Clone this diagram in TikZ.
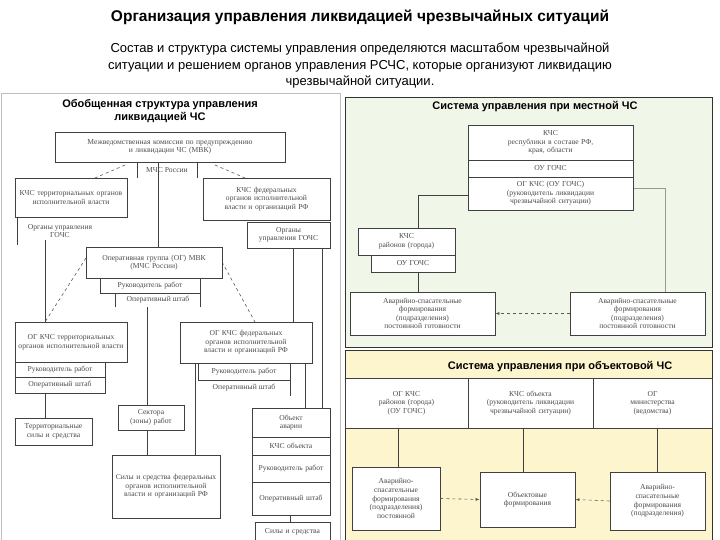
\documentclass[tikz,border=0pt]{standalone}
\usepackage{fontspec}
\setmainfont{Liberation Serif}
\newfontfamily\hd{Liberation Sans}
\usetikzlibrary{fit,arrows.meta}
\tikzset{bx/.style={draw=black!75,line width=0.7pt,fill=white,inner sep=0pt},
 txt/.style={font=\fontsize{7.6}{8.6}\selectfont,text=black!70,align=center,inner sep=0.5pt},
 ln/.style={draw=black!75,line width=0.6pt},
 dl/.style={draw=black!65,line width=0.6pt,dashed},
 da/.style={dl,-{Latex[length=4pt]}},
 ttl/.style={font=\hd\bfseries\fontsize{11}{12.5}\selectfont,align=center}}
\newcommand\Bx[6]{\node[bx,fit={(#2,#3)(#4,#5)}] (#1) {};
 \pgfmathsetmacro\tw{#4-#2-4}\node[txt,text width=\tw pt] at (#1.center) {#6};}
\begin{document}
\begin{tikzpicture}[x=1pt,y=-1pt]
\useasboundingbox (0,0) rectangle (720,540);
\fill[white] (0,0) rectangle (720,540);
\node[font=\hd\bfseries\fontsize{15.5}{17}\selectfont] (t) at (360,17) {Организация управления ликвидацией чрезвычайных ситуаций};
\node[font=\hd\fontsize{13}{16.5}\selectfont,align=center] (st) at (360,66) {Состав и структура системы управления определяются масштабом чрезвычайной\\ситуации и решением органов управления РСЧС, которые организуют ликвидацию\\чрезвычайной ситуации.};
% panels
\draw[black!25,fill=white] (1,93) rectangle (340,540);
\draw[black!80,fill={rgb,255:red,240;green,246;blue,232}] (345,97) rectangle (712,347);
\draw[black!80,fill={rgb,255:red,253;green,245;blue,206}] (345,350) rectangle (712,540);
\node[ttl] (lt) at (160,111) {Обобщенная структура управления\\ликвидацией ЧС};
\node[ttl] (rt) at (535,107) {Система управления при местной ЧС};
\node[ttl] (bt) at (560,367) {Система управления при объектовой ЧС};
% ---------- left panel
\draw[ln] (158,162) -- (158,247);
\draw[ln] (137,162) -- (137,178); \draw[ln] (197,162) -- (197,178);
\node[txt] (mchs) at (167,170) {МЧС России};
\draw[dl] (125,165) -- (95,178); \draw[dl] (215,165) -- (245,178);
\draw[ln] (17,217) -- (17,245); \draw[ln] (45,240) -- (45,322);
\draw[ln] (293,248) -- (293,322); \draw[ln] (322,248) -- (322,408);
\draw[dl] (86,258) -- (45,322); \draw[dl] (222,262) -- (255,322);
\draw[ln] (147,307) -- (147,455);
\draw[ln] (195,363) -- (195,455);
\draw[ln] (305,363) -- (305,408);
\draw[ln] (45,393) -- (45,418);
\draw[ln] (290,515) -- (290,522);
\Bx{mvk}{55}{132}{285}{162}{Межведомственная комиссия по предупреждению\\и ликвидации ЧС (МВК)}
\Bx{kter}{15}{178}{127}{217}{КЧС территориальных органов исполнительной власти}
\Bx{kfed}{203}{178}{330}{220}{КЧС федеральных органов исполнительной власти и организаций РФ}
\node[txt] (ougl) at (60,231) {Органы управления\\ГОЧС};
\Bx{ougr}{247}{222}{330}{248}{Органы управления ГОЧС}
\Bx{og}{86}{247}{222}{278}{Оперативная группа (ОГ) МВК\\(МЧС России)}
\Bx{rr1}{100}{278}{200}{293}{Руководитель работ}
\node[txt] (os1) at (158,300) {Оперативный штаб};
\draw[ln] (115,293) -- (115,307); \draw[ln] (200,293) -- (200,307);
\Bx{ogt}{15}{322}{127}{362}{ОГ КЧС территориальных органов исполнительной власти}
\Bx{rr2}{15}{362}{105}{377}{Руководитель работ}
\Bx{os2}{15}{377}{105}{393}{Оперативный штаб}
\Bx{tss}{15}{418}{92}{445}{Территориальные силы и средства}
\Bx{ogf}{180}{322}{312}{363}{ОГ КЧС федеральных органов исполнительной власти и организаций РФ}
\Bx{rr3}{198}{363}{290}{380}{Руководитель работ}
\node[txt] (os3) at (244,388) {Оперативный штаб};
\draw[ln] (290,380) -- (290,396);
\Bx{sek}{118}{405}{184}{430}{Сектора (зоны) работ}
\Bx{ssf}{112}{455}{220}{518}{Силы и средства федеральных органов исполнительной власти и организаций РФ}
\Bx{oba}{252}{408}{330}{437}{Объект\\аварии}
\Bx{kob}{252}{437}{330}{455}{КЧС объекта}
\Bx{rr4}{252}{455}{330}{482}{Руководитель работ}
\Bx{os4}{252}{482}{330}{515}{Оперативный штаб}
\Bx{ss4}{255}{522}{330}{542}{Силы и средства}
% ---------- top right
\draw[ln] (468,195) -- (418,195) -- (418,228);
\draw[ln,black!40] (633,188) -- (665,188) -- (665,292);
\draw[ln] (418,272) -- (418,292);
\Bx{kchr}{468}{125}{633}{160}{КЧС\\республики в составе РФ,\\края, области}
\Bx{ou1}{468}{160}{633}{177}{ОУ ГОЧС}
\Bx{ogk}{468}{177}{633}{210}{ОГ КЧС (ОУ ГОЧС)\\(руководитель ликвидации\\чрезвычайной ситуации)}
\Bx{kchg}{358}{228}{455}{255}{КЧС\\районов (города)}
\Bx{ou2}{371}{255}{455}{272}{ОУ ГОЧС}
\Bx{asl}{350}{292}{495}{335}{Аварийно-спасательные\\формирования\\(подразделения)\\постоянной готовности}
\Bx{asr}{570}{292}{705}{335}{Аварийно-спасательные\\формирования\\(подразделения)\\постоянной готовности}
\draw[da] (asr.west) -- (asl.east);
% ---------- bottom right
\Bx{c1}{345}{378}{468}{428}{ОГ КЧС\\районов (города)\\(ОУ ГОЧС)}
\Bx{c2}{468}{378}{593}{428}{КЧС объекта\\(руководитель ликвидации\\чрезвычайной ситуации)}
\Bx{c3}{593}{378}{712}{428}{ОГ\\министерства\\(ведомства)}
\draw[ln] (398,428) -- (398,467); \draw[ln] (523,428) -- (523,472); \draw[ln] (657,428) -- (657,472);
\Bx{b1}{352}{467}{440}{530}{Аварийно-\\спасательные\\формирования\\(подразделения)\\постоянной}
\Bx{b2}{480}{472}{575}{527}{Объектовые\\формирования}
\Bx{b3}{610}{472}{705}{530}{Аварийно-\\спасательные\\формирования\\(подразделения)}
\draw[da] (b1.east) -- (b2.west);
\draw[da] (b3.west) -- (b2.east);
\end{tikzpicture}
\end{document}
